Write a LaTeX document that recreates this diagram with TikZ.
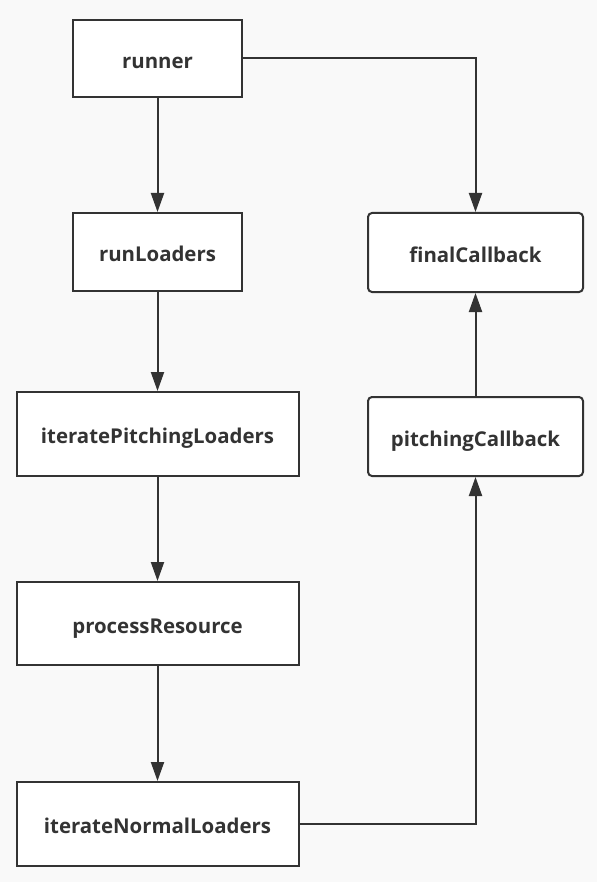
\documentclass[tikz,border=0pt]{standalone}
\usepackage{fontspec}
\setmainfont{Open Sans}
\usetikzlibrary{arrows.meta}
\definecolor{ink}{HTML}{333333}
\definecolor{bg}{HTML}{F9F9F9}
\tikzset{
  box/.style={draw=ink, fill=white, line width=2pt, inner sep=0pt,
    text height=19.5pt, text depth=0pt,
    font=\fontsize{20.4}{24}\selectfont\bfseries, text=ink},
  rbox/.style={box, rounded corners=4pt},
  conn/.style={draw=ink, line width=2pt, -{Triangle[length=19pt,width=13pt]}},
}
\begin{document}
\begin{tikzpicture}[x=1pt,y=-1pt]
\fill[bg] (0,0) rectangle (597,882);
\useasboundingbox (0,0) rectangle (597,882);
\node[box, minimum width=169pt, minimum height=77pt] (runner) at (157.5,58.5) {runner};
\node[box, minimum width=169pt, minimum height=78pt] (runLoaders) at (157.5,252) {runLoaders};
\node[box, minimum width=282pt, minimum height=84pt] (itp) at (157.5,434) {iteratePitchingLoaders};
\node[box, minimum width=282pt, minimum height=83pt] (proc) at (157.5,623.5) {processResource};
\node[box, minimum width=282pt, minimum height=84pt] (itn) at (157.5,824) {iterateNormalLoaders};
\node[rbox, minimum width=215pt, minimum height=79pt] (final) at (475.5,252.5) {finalCallback};
\node[rbox, minimum width=215pt, minimum height=79pt] (pitch) at (475.5,436.5) {pitchingCallback};
\draw[conn] (runner) -- (runLoaders);
\draw[conn] (runLoaders) -- (itp);
\draw[conn] (itp) -- (proc);
\draw[conn] (proc) -- (itn);
\draw[conn] (pitch) -- (final);
\draw[conn] (runner.east) -| (final.north);
\draw[conn] (itn.east) -| (pitch.south);
\end{tikzpicture}
\end{document}
